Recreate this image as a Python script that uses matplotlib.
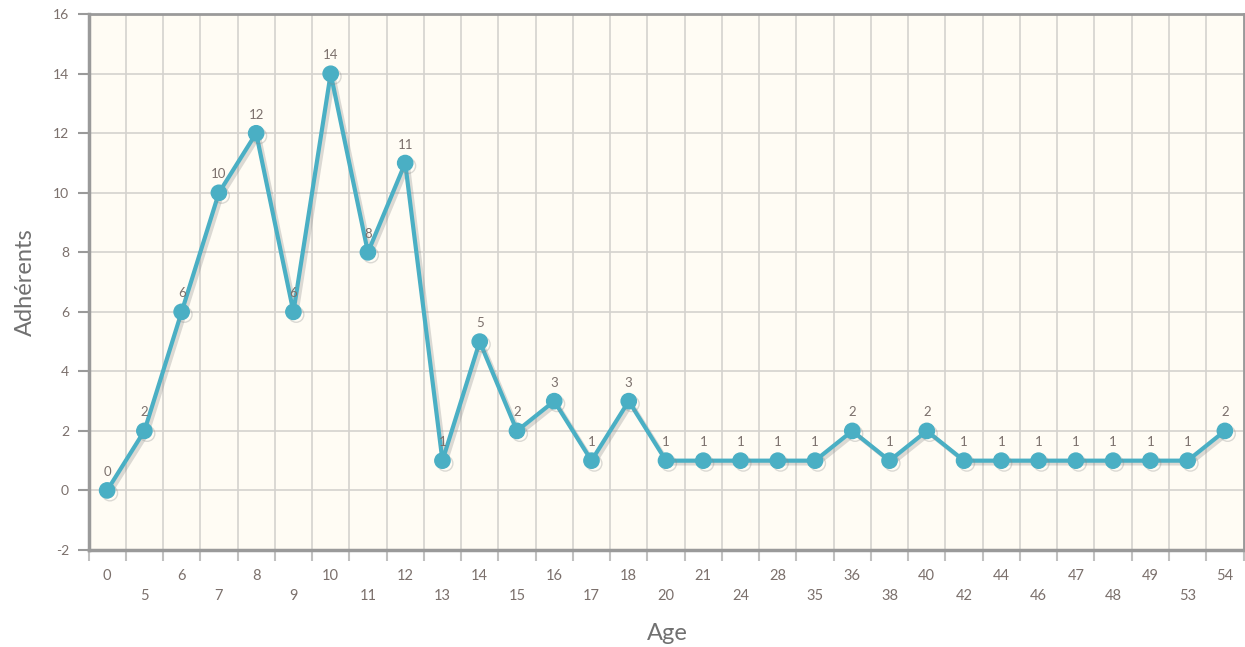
import numpy as np
import matplotlib
matplotlib.use('Agg')
import matplotlib.pyplot as plt
import matplotlib.patheffects as pe

ages = ['0', '5', '6', '7', '8', '9', '10', '11', '12', '13', '14', '15', '16', '17', '18',
        '20', '21', '24', '28', '35', '36', '38', '40', '42', '44', '46', '47', '48', '49', '53', '54']
adherents = [0, 2, 6, 10, 12, 6, 14, 8, 11, 1, 5, 2, 3, 1, 3,
             1, 1, 1, 1, 1, 2, 1, 2, 1, 1, 1, 1, 1, 1, 1, 2]

plt.rcParams['font.family'] = ['Lato', 'DejaVu Sans']
plt.rcParams['axes.unicode_minus'] = False

line_col = '#4aafc4'
txt_col = '#7b706c'
grid_col = '#d4d2ce'
axis_col = '#9a9a9a'

fig = plt.figure(figsize=(12.45, 6.47), dpi=100)
ax = fig.add_axes([88.5 / 1245, 0.150, (1243.5 - 88.5) / 1245, 0.828])
ax.set_facecolor('#fffcf4')

x = np.arange(len(ages))
ax.plot(x, adherents, color=line_col, lw=3, marker='o', ms=11, zorder=4,
        path_effects=[pe.SimpleLineShadow(offset=(2, -2), shadow_color='#888888', alpha=0.3),
                      pe.Normal()])

for xi, v in zip(x, adherents):
    ax.annotate(str(v), (xi, v), xytext=(0, 9), textcoords='offset points',
                ha='center', va='bottom', fontsize=9.5, color=txt_col, zorder=5)

ax.set_xlim(-0.5, len(ages) - 0.5)
ax.set_ylim(-2, 16)
ax.set_yticks(np.arange(-2, 17, 2))
ax.tick_params(axis='y', labelsize=10, colors=axis_col, labelcolor=txt_col, length=8, width=1.5, pad=6)

# category labels in the middle of each bin, grid/ticks at bin edges
ax.set_xticks(np.arange(-0.5, len(ages), 1))
ax.set_xticklabels([])
ax.tick_params(axis='x', colors='#c0c0c0', length=8, width=1.5)
for xi, lab in zip(x, ages):
    dy = -0.0485 if xi % 2 == 0 else -0.086
    ax.text(xi, dy, lab, transform=ax.get_xaxis_transform(), ha='center', va='center',
            fontsize=10.5, color=txt_col)

ax.grid(True, color=grid_col, lw=1.2, zorder=0)
ax.set_axisbelow(True)

for side in ['left', 'bottom']:
    ax.spines[side].set_color(axis_col)
    ax.spines[side].set_linewidth(2.5)
for side in ['top', 'right']:
    ax.spines[side].set_color(axis_col)
    ax.spines[side].set_linewidth(2)

ax.set_ylabel('Adhérents', fontsize=17, color='#707070', labelpad=12)
fig.text(667 / 1245, 1 - 633 / 647, 'Age', ha='center', va='center', fontsize=17, color='#707070')

fig.savefig('out.png', dpi=100)
